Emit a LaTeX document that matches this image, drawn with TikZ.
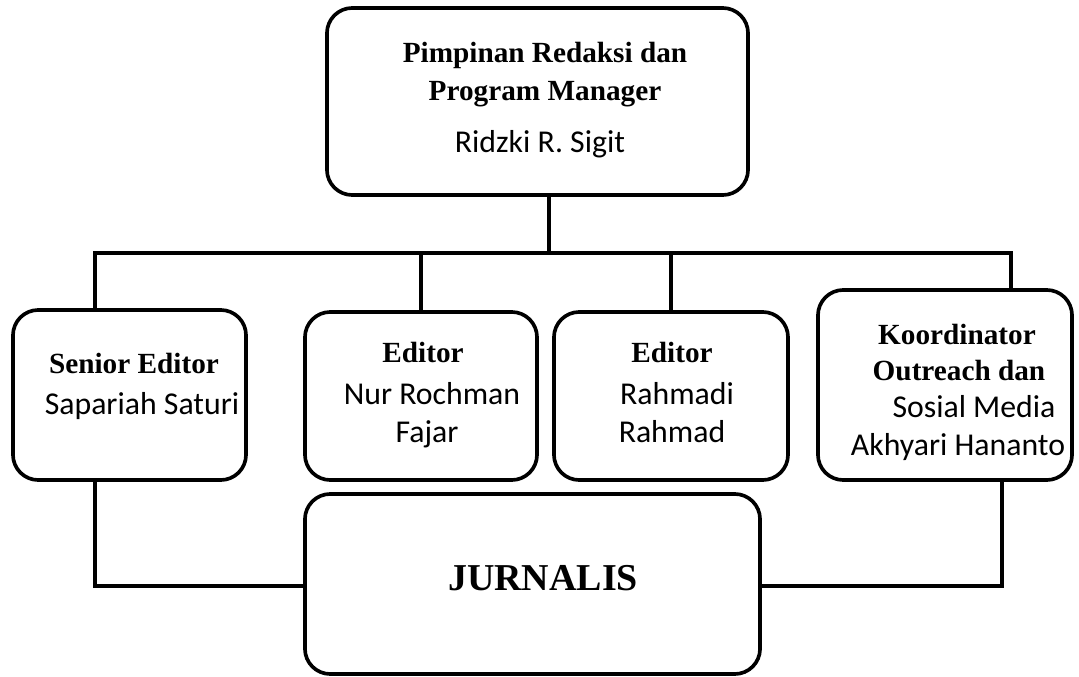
\documentclass[tikz,border=0pt]{standalone}
\usepackage{fontspec}
\setmainfont{Liberation Serif}
\newfontfamily\calibri{Carlito}
\usepackage{xcolor}

\tikzset{
  box/.style={draw, line width=2.6pt, rounded corners=18pt, inner sep=0pt},
  role/.style={font=\fontsize{20.8}{24}\selectfont\bfseries, anchor=base, inner sep=0pt},
  person/.style={font=\calibri\fontsize{22.6}{26}\selectfont, anchor=base, inner sep=0pt},
  link/.style={line width=2.6pt}
}

\begin{document}
\begin{tikzpicture}[x=0.025cm, y=-0.025cm]
\useasboundingbox (0,0) rectangle (1079,677);

% boxes
\node[box, minimum width=10.525cm, minimum height=4.675cm] (pimpinan) at (537.5,101.5) {};
\node[box, minimum width=5.825cm, minimum height=4.25cm] (senior) at (129.5,395) {};
\node[box, minimum width=5.8cm, minimum height=4.2cm] (editorA) at (421,396) {};
\node[box, minimum width=5.85cm, minimum height=4.2cm] (editorB) at (671,396) {};
\node[box, minimum width=6.35cm, minimum height=4.75cm] (koord) at (945,385) {};
\node[box, minimum width=11.375cm, minimum height=4.5cm] (jurnalis) at (532.5,584) {};

% texts
\node[role] (pimpinanA) at (545,62) {Pimpinan Redaksi dan};
\node[role] (pimpinanB) at (545,100) {Program Manager};
\node[person] (pimpinanC) at (540,152) {Ridzki R. Sigit};

\node[role] (seniorA) at (134,373) {Senior Editor};
\node[person] (seniorB) at (142,414) {Sapariah Saturi};

\node[role] (editorAa) at (423,362) {Editor};
\node[person] (editorAb) at (432,404) {Nur Rochman};
\node[person] (editorAc) at (427,442) {Fajar};

\node[role] (editorBa) at (672,362) {Editor};
\node[person] (editorBb) at (677,404) {Rahmadi};
\node[person] (editorBc) at (672,442) {Rahmad};

\node[role] (koordA) at (957,344) {Koordinator};
\node[role] (koordB) at (959,380) {Outreach dan};
\node[person] (koordC) at (974,417) {Sosial Media};
\node[person] (koordD) at (958,455) {Akhyari Hananto};

\node[font=\fontsize{27}{30}\selectfont\bfseries, anchor=base, inner sep=0pt] (jurnalisA) at (543,590) {JURNALIS};

% connectors
\coordinate (hub) at (549,253);
\coordinate (barL) at (95,253);
\coordinate (barR) at (1011,253);
\coordinate (loopL) at (95,586);
\coordinate (loopR) at (1002,586);

\draw[link] (pimpinan.south -| hub) -- (hub);
\draw[link] (senior.north -| barL) -- (barL) -- (barR) -- (koord.north -| barR);
\draw[link] (editorA.north) -- (editorA.north |- barL);
\draw[link] (editorB.north) -- (editorB.north |- barL);
\draw[link] (senior.south -| loopL) -- (loopL) -- (loopL -| jurnalis.west);
\draw[link] (koord.south -| loopR) -- (loopR) -- (loopR -| jurnalis.east);
\end{tikzpicture}
\end{document}
